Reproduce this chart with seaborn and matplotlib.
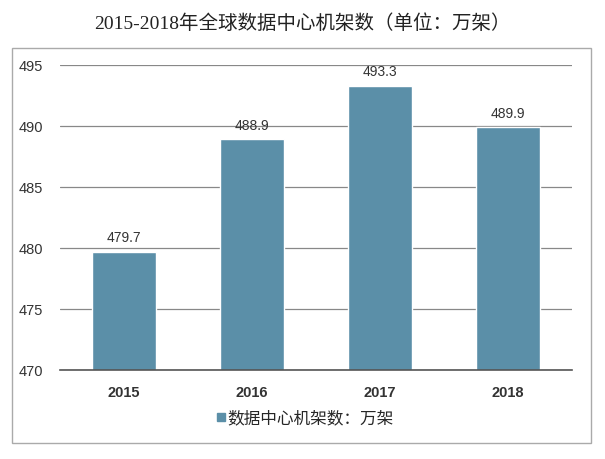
import matplotlib
matplotlib.use("Agg")
import matplotlib.pyplot as plt
import seaborn as sns
import pandas as pd
from matplotlib.patches import Rectangle
from matplotlib.lines import Line2D

years = ["2015", "2016", "2017", "2018"]
values = [479.7, 488.9, 493.3, 489.9]
yticks = [470, 475, 480, 485, 490, 495]
title = "2015-2018年全球数据中心机架数（单位：万架）"
legend_label = "数据中心机架数：万架"

sns.set_theme(style="white")
plt.rcParams['font.family'] = ['Liberation Sans', 'Noto Sans CJK SC', 'DejaVu Sans']

W, H = 605, 460
fig = plt.figure(figsize=(W/100, H/100), dpi=100)
ax = fig.add_axes([60/W, 1-371/H, (572-60)/W, (371-66)/H])

df = pd.DataFrame({"year": years, "value": values})
color = "#5B8FA8"
sns.barplot(data=df, x="year", y="value", color=color, width=0.5, ax=ax, saturation=1)

ax.set_ylim(470, 495)
ax.set_yticks(yticks)
ax.set_yticklabels([str(t) for t in yticks], fontsize=10.5, color="#333333")
ax.set_xlabel("")
ax.set_ylabel("")
ax.tick_params(axis="x", labelsize=10.5, colors="#333333", length=0, pad=11)
ax.tick_params(axis="y", length=0, pad=12)
for lab in ax.get_xticklabels():
    lab.set_fontweight("bold")
ax.yaxis.grid(True, color="#888888", linewidth=0.9)
ax.set_axisbelow(True)
for s in ["top", "right", "left"]:
    ax.spines[s].set_visible(False)
ax.spines["bottom"].set_color("#555555")
ax.spines["bottom"].set_linewidth(1.2)

for i, v in enumerate(values):
    ax.text(i, v + 0.6, f"{v:.1f}", ha="center", va="bottom", fontsize=10, color="#333333")

fig.text(302/W, 1-24/H, title, ha="center", va="center", fontsize=14,
         family=['Liberation Serif', 'Noto Sans CJK SC', 'DejaVu Sans'], color="#222222")

handle = Line2D([], [], marker="s", linestyle="none", markersize=5.5, color=color)
fig.legend([handle], [legend_label], loc="center", bbox_to_anchor=(304/W, 1-419/H),
           frameon=False, handletextpad=0.0, borderaxespad=0, handlelength=0.8,
           prop={'family': ['Noto Sans CJK SC', 'DejaVu Sans'], 'size': 12})

fig.patches.append(Rectangle((12/W, 1-444/H), (591-12)/W, (444-49)/H, transform=fig.transFigure,
                             fill=False, edgecolor="#AAAAAA", linewidth=1.0))

fig.savefig("out.png", dpi=100)
